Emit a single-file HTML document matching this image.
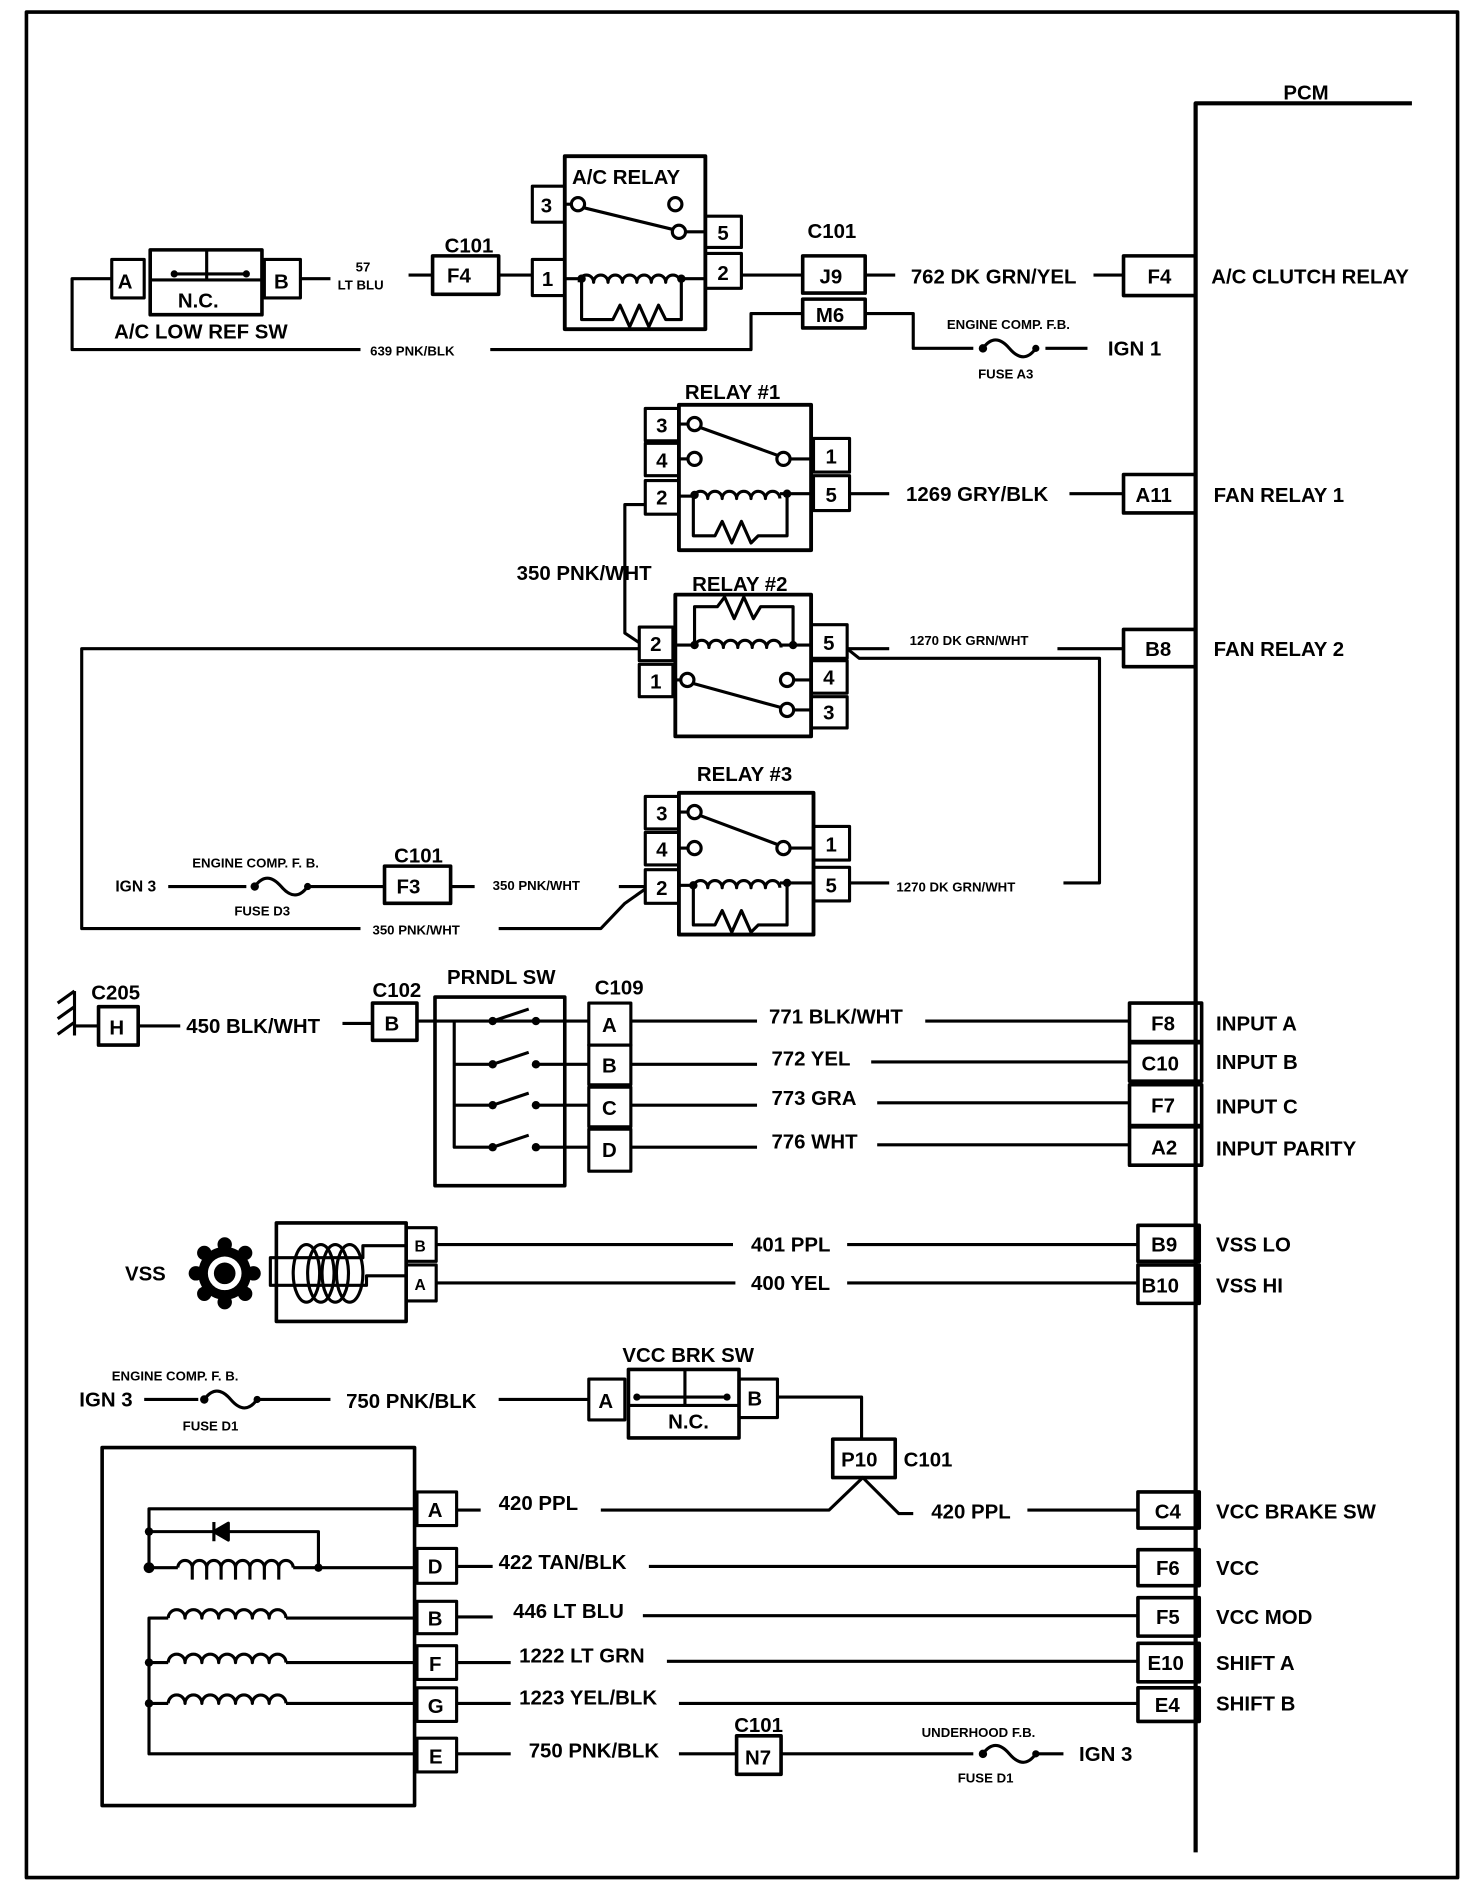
<!DOCTYPE html>
<html><head><meta charset="utf-8"><style>
html,body{margin:0;padding:0;background:#fff}
svg{display:block}
text{font-family:"Liberation Sans",Arial,sans-serif;fill:#000;font-weight:bold}
</style></head><body>
<svg width="1472" height="1886" viewBox="0 0 1225 1570" preserveAspectRatio="none" xmlns="http://www.w3.org/2000/svg">
<g fill="none" stroke="#000" stroke-width="2.6" stroke-linejoin="round">
<rect x="22" y="10" width="1191" height="1553" stroke-width="3"/>
<polyline points="995,1542 995,86 1175,86" stroke-width="3.5"/>

<rect x="93" y="216" width="27" height="32"/>
<rect x="125" y="208" width="93" height="54" stroke-width="3"/>
<line x1="125" y1="233" x2="218" y2="233"/><line x1="172" y1="208" x2="172" y2="233"/>
<line x1="145" y1="228" x2="205" y2="228"/>
<rect x="220" y="216" width="30" height="32"/>
<polyline points="93,232 60,232 60,291 300,291"/>
<polyline points="408,291 625,291 625,261 668,261"/>
<line x1="250" y1="232" x2="275" y2="232"/>
<line x1="340" y1="229" x2="360" y2="229"/>
<rect x="360" y="213" width="55" height="32" stroke-width="3"/>
<line x1="415" y1="229" x2="443" y2="229"/>
<rect x="443" y="216" width="27" height="30"/>
<rect x="443" y="155" width="27" height="30"/>
<rect x="470" y="130" width="117" height="144" stroke-width="3.2"/>
<rect x="587" y="180" width="30" height="26"/>
<rect x="587" y="211" width="30" height="29"/>
<line x1="470" y1="170" x2="476" y2="170"/>
<circle cx="481" cy="170" r="5.5"/><circle cx="562" cy="170" r="5.5"/><circle cx="565" cy="193" r="5.5"/>
<line x1="486" y1="173" x2="560" y2="191"/>
<line x1="570" y1="193" x2="587" y2="193"/>
<line x1="470" y1="232" x2="482" y2="232"/>
<path d="M482,235 a6,6 0 0 1 12,0 a6,6 0 0 1 12,0 a6,6 0 0 1 12,0 a6,6 0 0 1 12,0 a6,6 0 0 1 12,0 a6,6 0 0 1 12,0 a6,6 0 0 1 12,0"/>
<line x1="566" y1="232" x2="587" y2="232"/>
<polyline points="484,235 484,266 510,266 516,254 524,272 532,254 540,272 548,254 554,266 567,266 567,235"/>
<line x1="617" y1="229" x2="668" y2="229"/>
<rect x="668" y="213" width="52" height="31" stroke-width="3"/>
<rect x="668" y="249" width="52" height="24" stroke-width="3"/>
<line x1="720" y1="229" x2="745" y2="229"/>
<line x1="910" y1="229" x2="935" y2="229"/>
<rect x="935" y="213" width="60" height="33" stroke-width="3"/>
<polyline points="720,261 760,261 760,290 810,290"/>
<path d="M818,290 q10,-14 22,0 t22,0"/>
<line x1="870" y1="290" x2="905" y2="290"/>

<rect x="565" y="337" width="110" height="121" stroke-width="3.2"/>
<rect x="537" y="340" width="28" height="27"/><rect x="537" y="369" width="28" height="27"/><rect x="537" y="400" width="28" height="28"/>
<rect x="677" y="365" width="30" height="28"/><rect x="677" y="396" width="30" height="29"/>
<line x1="565" y1="353" x2="572" y2="353"/><line x1="565" y1="382" x2="572" y2="382"/>
<circle cx="578" cy="353" r="5.5"/><circle cx="578" cy="382" r="5.5"/><circle cx="652" cy="382" r="5.5"/>
<line x1="583" y1="356" x2="647" y2="379"/><line x1="657" y1="382" x2="677" y2="382"/>
<line x1="565" y1="413" x2="577" y2="413"/>
<path d="M577,415 a6,6 0 0 1 12,0 a6,6 0 0 1 12,0 a6,6 0 0 1 12,0 a6,6 0 0 1 12,0 a6,6 0 0 1 12,0 a6,6 0 0 1 12,0"/>
<line x1="649" y1="411" x2="677" y2="411"/>
<polyline points="577,415 577,446 595,446 601,434 609,452 617,434 625,452 631,446 655,446 655,411"/>
<line x1="707" y1="411" x2="740" y2="411"/>
<line x1="890" y1="411" x2="935" y2="411"/>
<rect x="935" y="395" width="60" height="32" stroke-width="3"/>
<polyline points="537,420 520,420 520,527 532,535"/>

<rect x="562" y="495" width="113" height="118" stroke-width="3.2"/>
<rect x="532" y="522" width="28" height="28"/><rect x="532" y="553" width="28" height="27"/>
<rect x="675" y="520" width="30" height="28"/><rect x="675" y="550" width="30" height="27"/><rect x="675" y="580" width="30" height="26"/>
<polyline points="578,537 578,505 597,505 603,497 611,515 619,497 627,515 633,505 660,505 660,537"/>
<line x1="562" y1="537" x2="578" y2="537"/>
<path d="M578,539 a6,6 0 0 1 12,0 a6,6 0 0 1 12,0 a6,6 0 0 1 12,0 a6,6 0 0 1 12,0 a6,6 0 0 1 12,0 a6,6 0 0 1 12,0"/>
<line x1="650" y1="537" x2="675" y2="537"/>
<line x1="562" y1="566" x2="567" y2="566"/>
<circle cx="572" cy="566" r="5.5"/><circle cx="655" cy="566" r="5.5"/><circle cx="655" cy="591" r="5.5"/>
<line x1="577" y1="569" x2="650" y2="589"/>
<line x1="660" y1="566" x2="675" y2="566"/><line x1="660" y1="591" x2="675" y2="591"/>
<polyline points="532,540 68,540 68,773 300,773"/>
<polyline points="705,540 740,540"/><line x1="880" y1="540" x2="935" y2="540"/>
<polyline points="705,540 715,548 915,548 915,735 885,735"/>
<rect x="935" y="524" width="60" height="31" stroke-width="3"/>

<rect x="565" y="660" width="112" height="118" stroke-width="3.2"/>
<rect x="537" y="663" width="28" height="27"/><rect x="537" y="693" width="28" height="27"/><rect x="537" y="724" width="28" height="28"/>
<rect x="677" y="688" width="30" height="28"/><rect x="677" y="722" width="30" height="28"/>
<line x1="565" y1="676" x2="572" y2="676"/><line x1="565" y1="706" x2="572" y2="706"/>
<circle cx="578" cy="676" r="5.5"/><circle cx="578" cy="706" r="5.5"/><circle cx="652" cy="706" r="5.5"/>
<line x1="583" y1="679" x2="647" y2="703"/><line x1="657" y1="706" x2="677" y2="706"/>
<line x1="565" y1="737" x2="577" y2="737"/>
<path d="M577,739 a6,6 0 0 1 12,0 a6,6 0 0 1 12,0 a6,6 0 0 1 12,0 a6,6 0 0 1 12,0 a6,6 0 0 1 12,0 a6,6 0 0 1 12,0"/>
<line x1="649" y1="735" x2="677" y2="735"/>
<polyline points="577,739 577,770 595,770 601,758 609,776 617,758 625,776 631,770 655,770 655,735"/>
<line x1="707" y1="735" x2="740" y2="735"/>
<polyline points="415,773 500,773 520,752 537,740"/>
<line x1="140" y1="738" x2="205" y2="738"/>
<path d="M212,738 q10,-14 22,0 t22,0"/>
<line x1="256" y1="738" x2="320" y2="738"/>
<rect x="320" y="721" width="55" height="31" stroke-width="3"/>
<line x1="375" y1="738" x2="395" y2="738"/>
<line x1="515" y1="738" x2="537" y2="738"/>

<line x1="62" y1="825" x2="62" y2="862"/>
<line x1="48" y1="835" x2="62" y2="825"/><line x1="48" y1="848" x2="62" y2="838"/><line x1="48" y1="861" x2="62" y2="851"/>
<line x1="62" y1="854" x2="82" y2="854"/>
<rect x="82" y="838" width="33" height="32" stroke-width="3"/>
<line x1="115" y1="854" x2="150" y2="854"/><line x1="285" y1="852" x2="310" y2="852"/>
<rect x="310" y="835" width="37" height="31" stroke-width="3"/>
<line x1="347" y1="850" x2="490" y2="850"/>
<rect x="362" y="830" width="108" height="157" stroke-width="3"/>
<polyline points="378,850 378,955 410,955"/>
<line x1="378" y1="886" x2="410" y2="886"/><line x1="378" y1="920" x2="410" y2="920"/>
<line x1="410" y1="850" x2="440" y2="840"/><line x1="410" y1="886" x2="440" y2="876"/><line x1="410" y1="920" x2="440" y2="910"/><line x1="410" y1="955" x2="440" y2="945"/>
<line x1="448" y1="886" x2="490" y2="886"/><line x1="448" y1="920" x2="490" y2="920"/><line x1="448" y1="955" x2="490" y2="955"/>
<rect x="490" y="835" width="35" height="35"/><rect x="490" y="870" width="35" height="33"/><rect x="490" y="905" width="35" height="33"/><rect x="490" y="940" width="35" height="35"/>
<line x1="525" y1="850" x2="630" y2="850"/><line x1="770" y1="850" x2="940" y2="850"/>
<line x1="525" y1="886" x2="630" y2="886"/><line x1="725" y1="884" x2="940" y2="884"/>
<line x1="525" y1="920" x2="630" y2="920"/><line x1="730" y1="918" x2="940" y2="918"/>
<line x1="525" y1="955" x2="630" y2="955"/><line x1="730" y1="953" x2="940" y2="953"/>
<rect x="940" y="835" width="60" height="32" stroke-width="3"/><rect x="940" y="868" width="60" height="32" stroke-width="3"/>
<rect x="940" y="903" width="60" height="34" stroke-width="3"/><rect x="940" y="938" width="60" height="32" stroke-width="3"/>

<rect x="230" y="1018" width="108" height="82" stroke-width="3"/>
<rect x="338" y="1022" width="25" height="28"/><rect x="338" y="1053" width="25" height="30"/>
<polyline points="338,1037 302,1037 302,1047 225,1047 225,1070 305,1070 305,1062 338,1062"/>
<line x1="363" y1="1036" x2="610" y2="1036"/><line x1="705" y1="1036" x2="947" y2="1036"/>
<line x1="363" y1="1068" x2="612" y2="1068"/><line x1="705" y1="1068" x2="947" y2="1068"/>
<rect x="947" y="1020" width="51" height="30" stroke-width="3"/><rect x="947" y="1053" width="51" height="32" stroke-width="3"/>
<ellipse cx="255" cy="1060" rx="11" ry="24"/><ellipse cx="267" cy="1060" rx="11" ry="24"/><ellipse cx="279" cy="1060" rx="11" ry="24"/><ellipse cx="291" cy="1060" rx="11" ry="24"/>

<line x1="120" y1="1165" x2="165" y2="1165"/>
<path d="M170,1165 q10,-14 22,0 t22,0"/>
<line x1="214" y1="1165" x2="275" y2="1165"/>
<line x1="415" y1="1165" x2="490" y2="1165"/>
<rect x="490" y="1148" width="30" height="34"/>
<rect x="523" y="1140" width="92" height="57" stroke-width="3"/>
<line x1="523" y1="1170" x2="615" y2="1170"/><line x1="570" y1="1140" x2="570" y2="1170"/>
<line x1="530" y1="1163" x2="605" y2="1163"/>
<rect x="615" y="1148" width="32" height="32"/>
<polyline points="647,1163 717,1163 717,1198"/>
<rect x="693" y="1198" width="52" height="32" stroke-width="3"/>
<polyline points="500,1257 690,1257 718,1230 748,1260 760,1260"/>
<line x1="855" y1="1257" x2="947" y2="1257"/>
<rect x="947" y="1242" width="51" height="30" stroke-width="3"/>

<rect x="85" y="1205" width="260" height="298" stroke-width="3"/>
<rect x="347" y="1242" width="33" height="28"/><rect x="347" y="1289" width="33" height="29"/><rect x="347" y="1333" width="33" height="27"/>
<rect x="347" y="1370" width="33" height="28"/><rect x="347" y="1405" width="33" height="28"/><rect x="347" y="1447" width="33" height="28"/>
<polyline points="345,1256 124,1256 124,1305"/>
<polyline points="124,1275 265,1275 265,1305"/>
<path d="M190,1268 l-12,7 l12,7 z" fill="#000"/><line x1="178" y1="1267" x2="178" y2="1283"/>
<line x1="124" y1="1305" x2="148" y2="1305"/>
<path d="M148,1305 a6,6 0 0 1 12,0 a6,6 0 0 1 12,0 a6,6 0 0 1 12,0 a6,6 0 0 1 12,0 a6,6 0 0 1 12,0 a6,6 0 0 1 12,0 a6,6 0 0 1 12,0 a6,6 0 0 1 12,0"/>
<line x1="244" y1="1305" x2="345" y2="1305"/>
<path d="M160,1305 v10 M172,1305 v10 M184,1305 v10 M196,1305 v10 M208,1305 v10 M220,1305 v10 M232,1305 v10"/>
<polyline points="345,1347 238,1347"/><polyline points="140,1347 124,1347 124,1460 345,1460"/>
<path d="M140,1347 a7,7 0 0 1 14,0 a7,7 0 0 1 14,0 a7,7 0 0 1 14,0 a7,7 0 0 1 14,0 a7,7 0 0 1 14,0 a7,7 0 0 1 14,0 a7,7 0 0 1 14,0"/>
<line x1="124" y1="1384" x2="140" y2="1384"/><line x1="238" y1="1384" x2="345" y2="1384"/>
<path d="M140,1384 a7,7 0 0 1 14,0 a7,7 0 0 1 14,0 a7,7 0 0 1 14,0 a7,7 0 0 1 14,0 a7,7 0 0 1 14,0 a7,7 0 0 1 14,0 a7,7 0 0 1 14,0"/>
<line x1="124" y1="1418" x2="140" y2="1418"/><line x1="238" y1="1418" x2="345" y2="1418"/>
<path d="M140,1418 a7,7 0 0 1 14,0 a7,7 0 0 1 14,0 a7,7 0 0 1 14,0 a7,7 0 0 1 14,0 a7,7 0 0 1 14,0 a7,7 0 0 1 14,0 a7,7 0 0 1 14,0"/>
<line x1="380" y1="1304" x2="410" y2="1304"/><line x1="540" y1="1304" x2="947" y2="1304"/>
<line x1="380" y1="1346" x2="410" y2="1346"/><line x1="535" y1="1345" x2="947" y2="1345"/>
<line x1="380" y1="1384" x2="425" y2="1384"/><line x1="555" y1="1383" x2="947" y2="1383"/>
<line x1="380" y1="1418" x2="425" y2="1418"/><line x1="565" y1="1418" x2="947" y2="1418"/>
<line x1="380" y1="1460" x2="425" y2="1460"/><line x1="565" y1="1460" x2="613" y2="1460"/>
<line x1="380" y1="1257" x2="400" y2="1257"/>
<rect x="947" y="1290" width="51" height="30" stroke-width="3"/><rect x="947" y="1330" width="51" height="32" stroke-width="3"/>
<rect x="947" y="1368" width="51" height="32" stroke-width="3"/><rect x="947" y="1405" width="51" height="28" stroke-width="3"/>
<rect x="613" y="1445" width="37" height="32" stroke-width="3"/>
<line x1="650" y1="1460" x2="810" y2="1460"/>
<path d="M818,1460 q10,-14 22,0 t22,0"/>
<line x1="862" y1="1460" x2="885" y2="1460"/>
</g>
<g fill="#000">
<circle cx="818" cy="290" r="3.5"/><circle cx="862" cy="290" r="3"/>
<circle cx="212" cy="738" r="3.5"/><circle cx="256" cy="738" r="3"/>
<circle cx="170" cy="1165" r="3.5"/><circle cx="214" cy="1165" r="3"/>
<circle cx="818" cy="1460" r="3.5"/><circle cx="862" cy="1460" r="3"/>
<circle cx="484" cy="232" r="3.5"/><circle cx="567" cy="232" r="3.5"/>
<circle cx="578" cy="412" r="3.5"/><circle cx="655" cy="411" r="3.5"/>
<circle cx="578" cy="537" r="3.5"/><circle cx="660" cy="537" r="3.5"/>
<circle cx="577" cy="737" r="3.5"/><circle cx="655" cy="735" r="3.5"/>
<circle cx="145" cy="228" r="3"/><circle cx="205" cy="228" r="3"/><circle cx="530" cy="1163" r="3"/><circle cx="605" cy="1163" r="3"/>
<circle cx="410" cy="850" r="3.5"/><circle cx="446" cy="850" r="3.5"/><circle cx="410" cy="886" r="3.5"/><circle cx="446" cy="886" r="3.5"/>
<circle cx="410" cy="920" r="3.5"/><circle cx="446" cy="920" r="3.5"/><circle cx="410" cy="955" r="3.5"/><circle cx="446" cy="955" r="3.5"/>
<circle cx="124" cy="1275" r="3.5"/><circle cx="124" cy="1305" r="4.5"/><circle cx="265" cy="1305" r="3.5"/>
<circle cx="124" cy="1384" r="3.5"/><circle cx="124" cy="1418" r="3.5"/>
<circle cx="187" cy="1060" r="22"/>
<circle cx="187" cy="1036" r="6"/><circle cx="187" cy="1084" r="6"/><circle cx="163" cy="1060" r="6"/><circle cx="211" cy="1060" r="6"/>
<circle cx="170" cy="1043" r="6"/><circle cx="204" cy="1043" r="6"/><circle cx="170" cy="1077" r="6"/><circle cx="204" cy="1077" r="6"/>
<circle cx="187" cy="1060" r="14" fill="#fff"/><circle cx="187" cy="1060" r="9"/>
</g>
<g font-size="17">
<text x="1068" y="83">PCM</text>
<text x="98" y="240">A</text><text x="148" y="256">N.C.</text><text x="228" y="240">B</text>
<text x="95" y="282">A/C LOW REF SW</text>
<text x="372" y="235">F4</text><text x="370" y="210">C101</text>
<text x="451" y="238">1</text><text x="450" y="177">3</text><text x="597" y="200">5</text><text x="597" y="233">2</text>
<text x="476" y="153">A/C RELAY</text>
<text x="672" y="198">C101</text><text x="682" y="236">J9</text><text x="679" y="268">M6</text>
<text x="758" y="236">762 DK GRN/YEL</text>
<text x="955" y="236">F4</text>
<text x="1008" y="236">A/C CLUTCH RELAY</text>
<text x="922" y="296">IGN 1</text>
<text x="570" y="332">RELAY #1</text>
<text x="546" y="360">3</text><text x="546" y="389">4</text><text x="546" y="420">2</text>
<text x="687" y="386">1</text><text x="687" y="418">5</text>
<text x="754" y="417">1269 GRY/BLK</text><text x="945" y="418">A11</text><text x="1010" y="418">FAN RELAY 1</text>
<text x="430" y="483">350 PNK/WHT</text>
<text x="576" y="492">RELAY #2</text>
<text x="541" y="542">2</text><text x="541" y="573">1</text><text x="685" y="541">5</text><text x="685" y="570">4</text><text x="685" y="599">3</text>
<text x="953" y="546">B8</text><text x="1010" y="546">FAN RELAY 2</text>
<text x="580" y="650">RELAY #3</text>
<text x="546" y="683">3</text><text x="546" y="713">4</text><text x="546" y="745">2</text><text x="687" y="709">1</text><text x="687" y="743">5</text>
<text x="330" y="744">F3</text><text x="328" y="718">C101</text>
<text x="76" y="832">C205</text><text x="91" y="861">H</text>
<text x="155" y="860">450 BLK/WHT</text>
<text x="310" y="830">C102</text><text x="320" y="858">B</text>
<text x="372" y="819">PRNDL SW</text><text x="495" y="828">C109</text>
<text x="501" y="859">A</text><text x="501" y="893">B</text><text x="501" y="928">C</text><text x="501" y="963">D</text>
<text x="640" y="852">771 BLK/WHT</text><text x="642" y="887">772 YEL</text><text x="642" y="920">773 GRA</text><text x="642" y="956">776 WHT</text>
<text x="958" y="858">F8</text><text x="950" y="891">C10</text><text x="958" y="926">F7</text><text x="958" y="961">A2</text>
<text x="1012" y="858">INPUT A</text><text x="1012" y="890">INPUT B</text><text x="1012" y="927">INPUT C</text><text x="1012" y="962">INPUT PARITY</text>
<text x="104" y="1066">VSS</text>
<text x="625" y="1042">401 PPL</text><text x="625" y="1074">400 YEL</text>
<text x="958" y="1042">B9</text><text x="950" y="1076">B10</text>
<text x="1012" y="1042">VSS LO</text><text x="1012" y="1076">VSS HI</text>
<text x="518" y="1134">VCC BRK SW</text>
<text x="66" y="1171">IGN 3</text>
<text x="288" y="1172">750 PNK/BLK</text>
<text x="498" y="1172">A</text><text x="556" y="1189">N.C.</text><text x="622" y="1170">B</text>
<text x="700" y="1221">P10</text><text x="752" y="1221">C101</text>
<text x="415" y="1257">420 PPL</text><text x="775" y="1264">420 PPL</text>
<text x="961" y="1264">C4</text><text x="1012" y="1264">VCC BRAKE SW</text>
<text x="356" y="1263">A</text><text x="356" y="1310">D</text><text x="356" y="1353">B</text><text x="357" y="1391">F</text><text x="356" y="1426">G</text><text x="357" y="1468">E</text>
<text x="415" y="1306">422 TAN/BLK</text><text x="427" y="1347">446 LT BLU</text><text x="432" y="1384">1222 LT GRN</text><text x="432" y="1419">1223 YEL/BLK</text>
<text x="440" y="1463">750 PNK/BLK</text>
<text x="611" y="1442">C101</text><text x="620" y="1469">N7</text>
<text x="898" y="1466">IGN 3</text>
<text x="962" y="1311">F6</text><text x="962" y="1352">F5</text><text x="955" y="1390">E10</text><text x="961" y="1425">E4</text>
<text x="1012" y="1311">VCC</text><text x="1012" y="1352">VCC MOD</text><text x="1012" y="1390">SHIFT A</text><text x="1012" y="1424">SHIFT B</text>
<text x="96" y="742" font-size="13">IGN 3</text>
</g>
<g font-size="13">
<text x="345" y="1042">B</text><text x="345" y="1074">A</text>
</g>
<g font-size="11">
<text x="296" y="226">57</text><text x="281" y="241">LT BLU</text>
<text x="308" y="296">639 PNK/BLK</text>
<text x="788" y="274">ENGINE COMP. F.B.</text><text x="814" y="315">FUSE A3</text>
<text x="757" y="537">1270 DK GRN/WHT</text>
<text x="746" y="742">1270 DK GRN/WHT</text>
<text x="410" y="741">350 PNK/WHT</text>
<text x="310" y="778">350 PNK/WHT</text>
<text x="160" y="722">ENGINE COMP. F. B.</text><text x="195" y="762">FUSE D3</text>
<text x="93" y="1149">ENGINE COMP. F. B.</text><text x="152" y="1191">FUSE D1</text>
<text x="767" y="1446">UNDERHOOD F.B.</text><text x="797" y="1484">FUSE D1</text>
</g>
</svg>
</body></html>
